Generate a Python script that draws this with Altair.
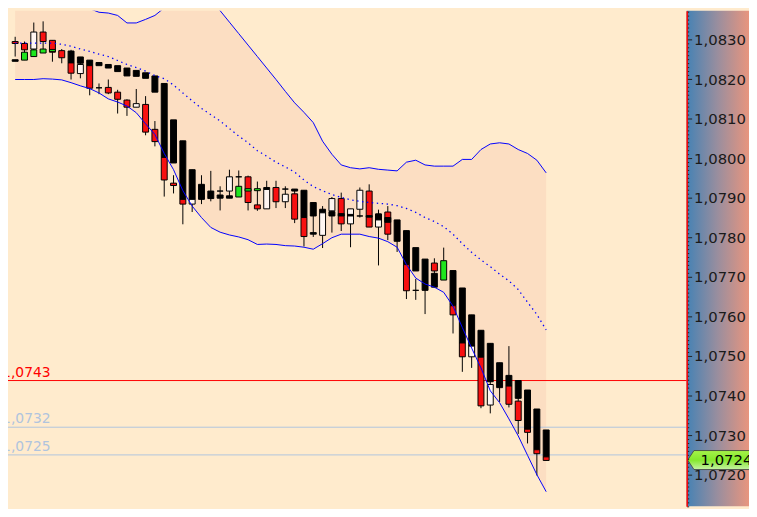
import altair as alt
import pandas as pd

# ---------------- values ----------------
# candle index 0..57
wick_hi = [1.08307, 1.08295, 1.08343, 1.08346, 1.08298, 1.08276, 1.08274, 1.08256, 1.08248, 1.08189,
           1.08199, 1.08173, 1.08149, 1.08175, 1.08157, 1.08094, 1.08189, 1.07957, 1.08044, 1.07971,
           1.07957, 1.07968, 1.07929, 1.07971, 1.07969, 1.07956, 1.07941, 1.07943, 1.07943, 1.07929,
           1.07922, 1.07919, 1.07888, 1.07879, 1.07902, 1.07913, 1.07872, 1.07926, 1.07934, 1.07870,
           1.07879, 1.07844, 1.07817, 1.07695, 1.07745, 1.07747, 1.07774, 1.07716, 1.07672, 1.07604,
           1.07565, 1.07532, 1.07483, 1.07525, 1.07438, 1.07414, 1.07366, 1.07313]
wick_lo = [1.08257, 1.08248, 1.08257, 1.08266, 1.08244, 1.08240, 1.08199, 1.08202, 1.08159, 1.08162,
           1.08162, 1.08113, 1.08107, 1.08129, 1.08058, 1.08030, 1.07903, 1.07911, 1.07833, 1.07864,
           1.07884, 1.07891, 1.07868, 1.07899, 1.07902, 1.07868, 1.07867, 1.07872, 1.07874, 1.07874,
           1.07836, 1.07777, 1.07801, 1.07773, 1.07812, 1.07816, 1.07775, 1.07850, 1.07826, 1.07729,
           1.07793, 1.07763, 1.07644, 1.07642, 1.07606, 1.07674, 1.07741, 1.07557, 1.07460, 1.07470,
           1.07368, 1.07355, 1.07384, 1.07370, 1.07303, 1.07279, 1.07198, 1.07236]

# body blocks (several per candle): candle index, top, bottom, colour code
body_i = [0, 0, 1, 1, 2, 2, 3, 3, 4, 4, 5, 6, 6, 7, 7, 8, 8, 9, 9,
          10, 10, 11, 11, 12, 12, 13, 13, 14, 14, 15, 15, 16, 16, 17, 17, 18, 18, 19, 19,
          20, 21, 22, 22, 23, 23, 24, 24, 25, 25, 26, 26, 27, 27, 28, 29, 29,
          30, 30, 31, 31, 32, 32, 33, 33, 34, 34, 35, 35, 36, 36, 37, 37, 38, 38, 39, 39,
          40, 40, 41, 42, 42, 43, 43, 44, 45, 45, 46, 47, 47, 48, 48, 49, 49,
          50, 50, 51, 51, 52, 53, 53, 54, 54, 55, 55, 56, 56, 57, 57]
body_hi = [1.08295, 1.08249, 1.08290, 1.08268, 1.08319, 1.08274, 1.08319, 1.08276, 1.08298, 1.08275,
           1.08272, 1.08271, 1.08241, 1.08256, 1.08237, 1.08248, 1.08234, 1.08242, 1.08178,
           1.08237, 1.08179, 1.08234, 1.08167, 1.08228, 1.08147, 1.08222, 1.08138, 1.08216, 1.08136,
           1.08208, 1.08073, 1.08189, 1.08002, 1.08097, 1.07937, 1.08044, 1.07896, 1.07971, 1.07896,
           1.07934, 1.07917, 1.07917, 1.07907, 1.07953, 1.07905, 1.07953, 1.07929, 1.07953, 1.07923,
           1.07923, 1.07882, 1.07926, 1.07921, 1.07926, 1.07922, 1.07909,
           1.07922, 1.07910, 1.07919, 1.07850, 1.07888, 1.07812, 1.07871, 1.07862, 1.07898, 1.07865,
           1.07898, 1.07860, 1.07872, 1.07858, 1.07919, 1.07854, 1.07917, 1.07855, 1.07859, 1.07859,
           1.07864, 1.07850, 1.07844, 1.07817, 1.07731, 1.07774, 1.07666, 1.07745, 1.07735, 1.07709,
           1.07741, 1.07716, 1.07627, 1.07672, 1.07533, 1.07604, 1.07525,
           1.07565, 1.07497, 1.07532, 1.07428, 1.07483, 1.07451, 1.07424, 1.07438, 1.07386, 1.07414,
           1.07315, 1.07366, 1.07263, 1.07313, 1.07245]
body_lo = [1.08290, 1.08245, 1.08274, 1.08248, 1.08276, 1.08257, 1.08295, 1.08266, 1.08268, 1.08270,
           1.08254, 1.08241, 1.08215, 1.08240, 1.08214, 1.08234, 1.08177, 1.08234, 1.08178,
           1.08228, 1.08165, 1.08219, 1.08149, 1.08208, 1.08129, 1.08207, 1.08129, 1.08202, 1.08066,
           1.08167, 1.08042, 1.08002, 1.07945, 1.07988, 1.07931, 1.07896, 1.07884, 1.07896, 1.07884,
           1.07896, 1.07898, 1.07917, 1.07899, 1.07917, 1.07899, 1.07953, 1.07902, 1.07888, 1.07917,
           1.07918, 1.07872, 1.07921, 1.07872, 1.07890, 1.07922, 1.07890,
           1.07917, 1.07846, 1.07850, 1.07802, 1.07854, 1.07808, 1.07862, 1.07805, 1.07867, 1.07854,
           1.07834, 1.07854, 1.07834, 1.07854, 1.07871, 1.07854, 1.07826, 1.07851, 1.07826, 1.07844,
           1.07808, 1.07838, 1.07790, 1.07731, 1.07665, 1.07715, 1.07666, 1.07666, 1.07715, 1.07674,
           1.07692, 1.07627, 1.07604, 1.07533, 1.07498, 1.07525, 1.07498,
           1.07497, 1.07374, 1.07435, 1.07376, 1.07420, 1.07424, 1.07378, 1.07393, 1.07337, 1.07315,
           1.07307, 1.07263, 1.07253, 1.07245, 1.07236]
body_c = ["R", "K", "R", "G", "W", "G", "R", "G", "R", "G", "R", "K", "R", "K", "W", "K", "R", "K", "K",
          "K", "R", "K", "R", "K", "R", "K", "W", "K", "R", "K", "R", "K", "R", "K", "R", "K", "R", "K", "W",
          "K", "K", "K", "K", "W", "K", "K", "G", "R", "G", "G", "R", "K", "W", "R", "K", "W",
          "K", "R", "K", "R", "K", "K", "K", "W", "W", "K", "R", "K", "W", "K", "W", "K", "R", "K", "W", "K",
          "R", "K", "K", "K", "R", "K", "K", "K", "R", "K", "G", "K", "R", "K", "R", "K", "W",
          "K", "R", "K", "W", "K", "K", "R", "K", "R", "K", "R", "K", "R", "K", "R"]

band_upper = [1.08446, 1.08446, 1.08441, 1.08434, 1.08421, 1.08409, 1.08397, 1.08385, 1.08378, 1.08369,
              1.08367, 1.08361, 1.08342, 1.08342, 1.08351, 1.08361, 1.08380, 1.08397, 1.08409, 1.08417,
              1.08412, 1.08397, 1.08373, 1.08344, 1.08315, 1.08286, 1.08257, 1.08228, 1.08199, 1.08169,
              1.08140, 1.08116, 1.08090, 1.08043, 1.08010, 1.07983, 1.07976, 1.07973, 1.07976, 1.07972,
              1.07970, 1.07968, 1.07990, 1.07995, 1.07983, 1.07980, 1.07980, 1.07980, 1.07997, 1.07997,
              1.08022, 1.08036, 1.08039, 1.08036, 1.08022, 1.08012, 1.07995, 1.07963]
band_mid = [1.08291, 1.08291, 1.08291, 1.08291, 1.08291, 1.08288, 1.08283, 1.08276, 1.08270, 1.08263,
            1.08257, 1.08247, 1.08237, 1.08229, 1.08220, 1.08209, 1.08201, 1.08185, 1.08165, 1.08145,
            1.08126, 1.08110, 1.08094, 1.08075, 1.08056, 1.08039, 1.08019, 1.08005, 1.07990, 1.07978,
            1.07965, 1.07945, 1.07928, 1.07918, 1.07908, 1.07901, 1.07895, 1.07891, 1.07888, 1.07886,
            1.07884, 1.07880, 1.07873, 1.07863, 1.07850, 1.07840, 1.07827, 1.07808, 1.07784, 1.07762,
            1.07743, 1.07726, 1.07707, 1.07690, 1.07668, 1.07636, 1.07605, 1.07566]
band_lower = [1.08199, 1.08199, 1.08199, 1.08201, 1.08200, 1.08198, 1.08191, 1.08183, 1.08176, 1.08165,
              1.08150, 1.08142, 1.08132, 1.08115, 1.08087, 1.08060, 1.08012, 1.07971, 1.07918, 1.07879,
              1.07850, 1.07825, 1.07813, 1.07806, 1.07801, 1.07794, 1.07782, 1.07783, 1.07782, 1.07779,
              1.07778, 1.07775, 1.07770, 1.07784, 1.07799, 1.07808, 1.07808, 1.07808, 1.07802, 1.07798,
              1.07789, 1.07775, 1.07731, 1.07697, 1.07682, 1.07674, 1.07661, 1.07626, 1.07572, 1.07520,
              1.07470, 1.07412, 1.07382, 1.07341, 1.07298, 1.07249, 1.07200, 1.07157]

level_values = [1.07438, 1.07320, 1.07250]
level_labels = ["1,0743", "1,0732", "1,0725"]
level_colors = ["#ff0000", "#b0c4de", "#b0c4de"]

last_price = [1.07237]
last_label = ["1,0724"]

# ---------------- tables ----------------
n = len(wick_hi)
assert len(body_i) == len(body_hi) == len(body_lo) == len(body_c)
colour_map = {"K": "#000000", "R": "#f81010", "G": "#1ee61e", "W": "#fff6f2"}
wicks = pd.DataFrame({"i": list(range(n)), "hi": wick_hi, "lo": wick_lo})
bodies = pd.DataFrame({"i": body_i, "hi": body_hi, "lo": body_lo,
                       "c": [colour_map[c] for c in body_c]})
bands = pd.DataFrame({"i": list(range(n)), "upper": band_upper, "mid": band_mid, "lower": band_lower})
levels = pd.DataFrame({"level": level_values, "label": level_labels, "lc": level_colors})
tag = pd.DataFrame({"p": last_price, "t": last_label})
panel = pd.DataFrame({"a": [0]})

# ---------------- scales / axis ----------------
W, H, PANEL = 686, 501, 63
xs = alt.Scale(domain=[-0.238, 71.55], nice=False, zero=False)
ys = alt.Scale(domain=[1.07120, 1.08373], nice=False, zero=False)
tick_values = [round(1.0712 + k * 0.0001, 4) for k in range(126)]
major = "round(datum.value * 10000) % 10 == 0"
yaxis = alt.Axis(
    orient="right", values=tick_values, title=None, grid=False, zindex=1,
    labelExpr=f"{major} ? replace(format(datum.value, '.4f'), '.', ',') : ''",
    tickSize={"condition": {"test": major, "value": 5}, "value": 2},
    tickColor="#222222", tickWidth=1, domainColor="#ff0000", domainWidth=1.5,
    labelFont="DejaVu Sans", labelFontSize=15, labelColor="#1a1a1a", labelPadding=2,
    labelOverlap=False, labelFlush=False, labelBound=False,
)
X = lambda f: alt.X(f, type="quantitative", scale=xs, axis=None)
Y = lambda f: alt.Y(f, type="quantitative", scale=ys, axis=yaxis)

grad_panel = alt.LinearGradient(
    gradient="linear", x1=0, x2=1, y1=0, y2=0,
    stops=[alt.GradientStop(color="#4682b4", offset=0),
           alt.GradientStop(color="#9a8e9e", offset=0.5),
           alt.GradientStop(color="#e8957e", offset=1)])
grad_tag = alt.LinearGradient(
    gradient="linear", x1=0, x2=0, y1=0, y2=1,
    stops=[alt.GradientStop(color="#a6f24a", offset=0),
           alt.GradientStop(color="#84e82c", offset=0.5),
           alt.GradientStop(color="#c6f2a6", offset=1)])

panel_layer = alt.Chart(panel).mark_rect(color=grad_panel).encode(
    x=alt.value(W), x2=alt.value(W + PANEL), y=alt.value(0), y2=alt.value(H))

band_area = alt.Chart(bands).mark_area(color="#fcdec2", clip=True).encode(
    x=X("i"), y=Y("upper"), y2="lower")

level_rules = alt.Chart(levels).mark_rule(strokeWidth=1, clip=True).encode(
    y=Y("level"), color=alt.Color("lc:N", scale=None))
level_text = alt.Chart(levels).mark_text(
    align="right", baseline="bottom", dy=-1, font="DejaVu Sans", fontSize=14, clip=True
).encode(x=alt.X(datum=3.8, scale=xs, axis=None), y=Y("level"),
         text="label:N", color=alt.Color("lc:N", scale=None))

wick_layer = alt.Chart(wicks).mark_rule(color="black", strokeWidth=1).encode(
    x=X("i"), y=Y("hi"), y2="lo")
body_layer = alt.Chart(bodies).mark_bar(size=6, stroke="black", strokeWidth=1).encode(
    x=X("i"), y=Y("hi"), y2="lo", color=alt.Color("c:N", scale=None))

upper_line = alt.Chart(bands).mark_line(color="#0000ff", strokeWidth=1, clip=True).encode(
    x=X("i"), y=Y("upper"))
lower_line = alt.Chart(bands).mark_line(color="#0000ff", strokeWidth=1, clip=True).encode(
    x=X("i"), y=Y("lower"))
mid_line = alt.Chart(bands).mark_line(color="#0000ff", strokeWidth=1.3, strokeDash=[1.4, 3.6],
                                      clip=True).encode(x=X("i"), y=Y("mid"))

tag_shape = "M -1 0 L -0.8 -0.3 L 1 -0.3 L 1 0.3 L -0.8 0.3 Z"
tag_box = alt.Chart(tag).mark_point(shape=tag_shape, size=4096, filled=True, fill=grad_tag,
                                     stroke="#3a3a3a", strokeWidth=0.8, opacity=1).encode(
    x=alt.value(W + 33), y=Y("p"))
tag_text = alt.Chart(tag).mark_text(align="left", baseline="middle", font="DejaVu Sans",
                                     fontSize=15, color="#000000").encode(
    x=alt.value(W + 14), y=Y("p"), text="t:N")

chart = alt.layer(
    panel_layer, band_area, level_rules, level_text, wick_layer, body_layer,
    upper_line, lower_line, mid_line, tag_box, tag_text
).properties(
    width=W, height=H, background="#ffebcd",
    autosize=alt.AutoSizeParams(type="none"),
    padding={"left": 0, "top": 0, "right": PANEL, "bottom": 0},
).configure_view(fill="#ffebcd", strokeWidth=0)

chart.save("out.html", embed_options={"renderer": "svg", "actions": False})
